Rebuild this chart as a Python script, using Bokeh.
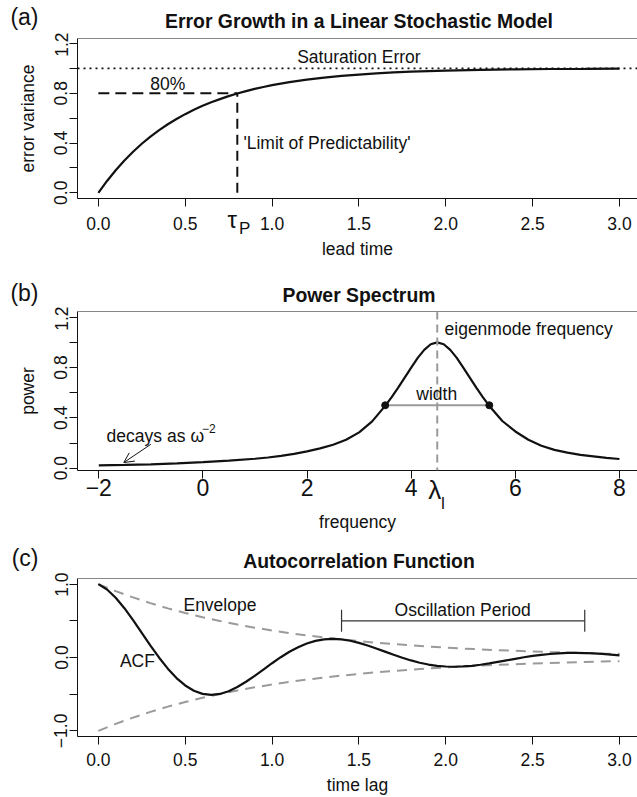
from bokeh.plotting import figure
from bokeh.layouts import column
from bokeh.models import Range1d, FixedTicker, Label, Span, Arrow, OpenHead, LinearAxis
from bokeh.embed import file_html
from bokeh.resources import INLINE

FONT = "Liberation Sans"
INK = "#111111"
GREY = "#9a9a9a"

# ---------------- data: panel (a) ----------------
lead_time = [0.0, 0.05, 0.1, 0.15, 0.2, 0.25, 0.3, 0.35, 0.4, 0.45, 0.5, 0.55, 0.6, 0.65,
             0.7, 0.75, 0.8, 0.85, 0.9, 0.95, 1.0, 1.1, 1.2, 1.3, 1.4, 1.5, 1.6, 1.7, 1.8,
             1.9, 2.0, 2.2, 2.4, 2.6, 2.8, 3.0]
error_variance = [0.0, 0.095, 0.181, 0.259, 0.330, 0.394, 0.451, 0.503, 0.551, 0.593, 0.632,
                  0.667, 0.699, 0.728, 0.753, 0.777, 0.798, 0.817, 0.835, 0.850, 0.865, 0.889,
                  0.909, 0.926, 0.939, 0.950, 0.959, 0.967, 0.973, 0.978, 0.982, 0.988, 0.992,
                  0.995, 0.996, 0.998]
saturation_level = 1.0
tau_p = 0.8
predictability_level = 0.8
a_x_ticks = [0.0, 0.5, 1.0, 1.5, 2.0, 2.5, 3.0]
a_x_labels = ["0.0", "0.5", "1.0", "1.5", "2.0", "2.5", "3.0"]
a_y_ticks = [0.0, 0.2, 0.4, 0.6, 0.8, 1.0, 1.2]
a_y_labels = ["0.0", "", "0.4", "", "0.8", "", "1.2"]
tau_symbol_at = [0.771]
tau_symbol = ["\u03c4"]
tau_sub_at = [0.842]
tau_sub = ["P"]

# ---------------- data: panel (b) ----------------
frequency = [-2.0, -1.5, -1.0, -0.5, 0.0, 0.5, 1.0, 1.25, 1.5, 1.75, 2.0, 2.25, 2.5, 2.75,
             3.0, 3.25, 3.5, 3.625, 3.75, 3.875, 4.0, 4.125, 4.25, 4.375, 4.5, 4.625, 4.75,
             4.875, 5.0, 5.125, 5.25, 5.375, 5.5, 5.75, 6.0, 6.25, 6.5, 6.75, 7.0, 7.25,
             7.5, 7.75, 8.0]
power = [0.022, 0.026, 0.031, 0.038, 0.048, 0.060, 0.075, 0.085, 0.098, 0.114, 0.134, 0.158,
         0.186, 0.226, 0.285, 0.372, 0.495, 0.565, 0.640, 0.720, 0.800, 0.877, 0.940, 0.985,
         1.000, 0.985, 0.940, 0.877, 0.800, 0.720, 0.640, 0.565, 0.495, 0.375, 0.292, 0.226,
         0.178, 0.146, 0.124, 0.106, 0.094, 0.082, 0.073]
eigen_frequency = 4.5
half_width_freq = [3.5, 5.5]
half_width_power = [0.5, 0.5]
decay_arrow_tail = [-1.0, 0.19]
decay_arrow_head = [-1.52, 0.045]
b_x_ticks = [-2, 0, 2, 4, 6, 8]
b_x_labels = ["\u22122", "0", "2", "4", "6", "8"]
b_y_ticks = [0.0, 0.2, 0.4, 0.6, 0.8, 1.0, 1.2]
b_y_labels = ["0.0", "", "0.4", "", "0.8", "", "1.2"]
lambda_symbol_at = [4.452]
lambda_symbol = ["\u03bb"]
lambda_sub_at = [4.611]
lambda_sub = ["I"]

# ---------------- data: panel (c) ----------------
time_lag = [0.0, 0.05, 0.1, 0.15, 0.2, 0.25, 0.3, 0.35, 0.4, 0.45, 0.5, 0.55, 0.6, 0.65, 0.7,
            0.75, 0.8, 0.85, 0.9, 0.95, 1.0, 1.05, 1.1, 1.15, 1.2, 1.25, 1.3, 1.35, 1.4, 1.45,
            1.5, 1.55, 1.6, 1.65, 1.7, 1.75, 1.8, 1.85, 1.9, 1.95, 2.0, 2.05, 2.1, 2.15, 2.2,
            2.25, 2.3, 2.35, 2.4, 2.45, 2.5, 2.55, 2.6, 2.65, 2.7, 2.75, 2.8, 2.85, 2.9, 2.95, 3.0]
acf = [1.000, 0.927, 0.815, 0.672, 0.509, 0.336, 0.162, -0.003, -0.152, -0.280, -0.381,
       -0.453, -0.496, -0.510, -0.497, -0.460, -0.403, -0.331, -0.250, -0.164, -0.078, 0.004,
       0.078, 0.141, 0.191, 0.227, 0.247, 0.254, 0.247, 0.228, 0.199, 0.163, 0.123, 0.080,
       0.037, -0.004, -0.040, -0.071, -0.096, -0.113, -0.123, -0.126, -0.122, -0.113, -0.099,
       -0.081, -0.060, -0.039, -0.018, 0.003, 0.021, 0.036, 0.048, 0.057, 0.062, 0.063,
       0.061, 0.056, 0.049, 0.040, 0.030]
envelope_lag = [0.0, 0.1, 0.2, 0.3, 0.4, 0.5, 0.6, 0.7, 0.8, 0.9, 1.0, 1.1, 1.2, 1.3, 1.4,
                1.5, 1.6, 1.7, 1.8, 1.9, 2.0, 2.1, 2.2, 2.3, 2.4, 2.5, 2.6, 2.7, 2.8, 2.9, 3.0]
envelope_upper = [1.0, 0.905, 0.819, 0.741, 0.670, 0.607, 0.549, 0.497, 0.449, 0.407, 0.368,
                  0.333, 0.301, 0.273, 0.247, 0.223, 0.202, 0.183, 0.165, 0.150, 0.135, 0.122,
                  0.111, 0.100, 0.091, 0.082, 0.074, 0.067, 0.061, 0.055, 0.050]
envelope_lower = [-1.0, -0.905, -0.819, -0.741, -0.670, -0.607, -0.549, -0.497, -0.449,
                  -0.407, -0.368, -0.333, -0.301, -0.273, -0.247, -0.223, -0.202, -0.183,
                  -0.165, -0.150, -0.135, -0.122, -0.111, -0.100, -0.091, -0.082, -0.074,
                  -0.067, -0.061, -0.055, -0.050]
period_start = 1.4
period_end = 2.8
period_level = 0.5
period_cap = 0.15
c_x_ticks = [0.0, 0.5, 1.0, 1.5, 2.0, 2.5, 3.0]
c_x_labels = ["0.0", "0.5", "1.0", "1.5", "2.0", "2.5", "3.0"]
c_y_ticks = [-1.0, -0.5, 0.0, 0.5, 1.0]
c_y_labels = ["\u22121.0", "", "0.0", "", "1.0"]

W = 637
LEFT = 77
BASE = "17.5px"
LIFT = 0.27  # label baseline correction, in em


def header(height, letter, title, letter_mid, title_base):
    # frame spans the plot-region columns (aligned with the panels below);
    # the panel letter is drawn as a tick label in the left border.
    h = figure(width=W, height=height, x_range=Range1d(LEFT, W),
               y_range=Range1d(height, 0), x_axis_type=None,
               output_backend="svg", toolbar_location=None,
               min_border_left=LEFT, min_border_right=0, min_border_top=0,
               min_border_bottom=0)
    h.outline_line_color = None
    h.grid.visible = False
    ax = h.yaxis[0]
    ax.ticker = FixedTicker(ticks=[letter_mid])
    ax.major_label_overrides = {letter_mid: letter}
    ax.major_label_orientation = "horizontal"
    ax.axis_line_color = None
    ax.major_tick_line_color = None
    ax.minor_tick_line_color = None
    ax.major_tick_in = 0
    ax.major_tick_out = 0
    ax.major_label_standoff = 39
    ax.major_label_text_font = FONT
    ax.major_label_text_font_size = "23px"
    ax.major_label_text_color = INK
    h.add_layout(Label(x=358.5, y=title_base - LIFT * 19.4, text=title, text_font=FONT,
                       text_font_size="19.4px", text_font_style="bold", text_align="center",
                       text_baseline="alphabetic", text_color=INK))
    return h


def style_axis(ax, size=BASE):
    ax.axis_line_color = INK
    ax.axis_line_width = 1
    ax.major_tick_line_color = INK
    ax.major_tick_in = 0
    ax.major_tick_out = 8
    ax.minor_tick_line_color = None
    ax.major_label_text_font = FONT
    ax.major_label_text_font_size = size
    ax.major_label_text_color = INK
    ax.axis_label_text_font = FONT
    ax.axis_label_text_font_size = BASE
    ax.axis_label_text_font_style = "normal"
    ax.axis_label_text_color = INK


def make_panel(height, top, bottom, xr, yr, xt, xl, yt, yl, ytitle, xsize=BASE):
    p = figure(width=W, height=height, x_range=Range1d(*xr), y_range=Range1d(*yr),
               output_backend="svg", toolbar_location=None,
               min_border_left=LEFT, min_border_right=0,
               min_border_top=top, min_border_bottom=bottom)
    p.outline_line_color = None
    p.grid.visible = False
    style_axis(p.xaxis[0], xsize)
    style_axis(p.yaxis[0])
    p.xaxis.ticker = FixedTicker(ticks=xt)
    p.xaxis.major_label_overrides = dict(zip(xt, xl))
    p.yaxis.ticker = FixedTicker(ticks=yt)
    p.yaxis.major_label_overrides = dict(zip(yt, yl))
    p.yaxis.major_label_orientation = "vertical"
    p.yaxis.major_label_standoff = 2
    if ytitle:
        p.yaxis.axis_label = ytitle
        p.yaxis.axis_label_standoff = 14
    p.add_layout(Span(location=yr[1], dimension="width", line_color=INK, line_width=1))
    return p


def extra_axis(p, ticks, labels, size, standoff, title=None, title_standoff=0):
    ax = LinearAxis(ticker=FixedTicker(ticks=ticks),
                    major_label_overrides=dict(zip(ticks, labels)))
    style_axis(ax, size)
    ax.axis_line_color = None
    ax.major_tick_line_color = None
    ax.major_tick_out = 0
    ax.major_label_standoff = standoff
    if title:
        ax.axis_label = title
        ax.axis_label_standoff = title_standoff
    p.add_layout(ax, "below")
    return ax


def txt(p, text, x, y, px_per_unit, size=17.5, align="left"):
    p.add_layout(Label(x=x, y=y + LIFT * size / px_per_unit, text=text, text_font=FONT,
                       text_font_size=f"{size}px", text_align=align,
                       text_baseline="alphabetic", text_color=INK))


# ---------------- panel (a) ----------------
ha = header(32, "(a)", "Error Growth in a Linear Stochastic Model", 22, 25.8)
pa = make_panel(236, 6, 70, (-0.12, 3.1037), (-0.046, 1.24), a_x_ticks, a_x_labels,
                a_y_ticks, a_y_labels, "error variance")
pa.xaxis[0].major_label_standoff = 10
extra_axis(pa, tau_symbol_at, tau_symbol, "24px", -27)
extra_axis(pa, tau_sub_at, tau_sub, "17px", -17, "lead time", -2)
pa.add_layout(Span(location=saturation_level, dimension="width", line_color=INK,
                   line_width=1.6, line_dash="2 4"))
pa.line([0.0, tau_p], [predictability_level, predictability_level], line_color=INK,
        line_width=2, line_dash="11 6")
pa.line([tau_p, tau_p], [0.0, predictability_level], line_color=INK, line_width=2,
        line_dash="10 6")
pa.line(lead_time, error_variance, line_color=INK, line_width=2.2)
KA = 124.4
txt(pa, "Saturation Error", 1.5, 1.051, KA, align="center")
txt(pa, "80%", 0.4, 0.836, KA, align="center")
txt(pa, "'Limit of Predictability'", 0.835, 0.36, KA)

# ---------------- panel (b) ----------------
hb = header(38, "(b)", "Power Spectrum", 24, 31.6)
pb = make_panel(229, 5, 65, (-2.409, 8.346), (-0.0183, 1.2453), b_x_ticks, b_x_labels,
                b_y_ticks, b_y_labels, "power", xsize="23px")
pb.xaxis[0].major_label_standoff = 0
extra_axis(pb, lambda_symbol_at, lambda_symbol, "26px", -24)
extra_axis(pb, lambda_sub_at, lambda_sub, "16px", -13, "frequency", -3)
pb.add_layout(Span(location=eigen_frequency, dimension="height", line_color=GREY,
                   line_width=2, line_dash="8 5"))
pb.line(half_width_freq, half_width_power, line_color=GREY, line_width=2)
pb.line(frequency, power, line_color=INK, line_width=2.2)
pb.scatter(half_width_freq, half_width_power, size=7, color=INK)
pb.add_layout(Arrow(end=OpenHead(size=10, line_width=1, line_color=INK),
                    x_start=decay_arrow_tail[0], y_start=decay_arrow_tail[1],
                    x_end=decay_arrow_head[0], y_end=decay_arrow_head[1],
                    line_width=1, line_color=INK))
KB = 125.8
txt(pb, "eigenmode frequency", 4.64, 1.07, KB)
txt(pb, "width", 4.49, 0.55, KB, align="center")
txt(pb, "decays as", -1.85, 0.22, KB)
txt(pb, "\u03c9", -0.24, 0.22, KB)
txt(pb, "\u22122", -0.02, 0.286, KB, size=12)

# ---------------- panel (c) ----------------
hc = header(37, "(c)", "Autocorrelation Function", 26, 30.8)
pc = make_panel(225, 6, 59, (-0.12, 3.1037), (-1.077, 1.077), c_x_ticks, c_x_labels,
                c_y_ticks, c_y_labels, None)
pc.xaxis[0].major_label_standoff = 8
pc.xaxis[0].axis_label = "time lag"
pc.xaxis[0].axis_label_standoff = 6
pc.line(envelope_lag, envelope_upper, line_color=GREY, line_width=2, line_dash="10 7")
pc.line(envelope_lag, envelope_lower, line_color=GREY, line_width=2, line_dash="10 7")
pc.line(time_lag, acf, line_color=INK, line_width=2.2)
pc.segment(x0=[period_start], y0=[period_level], x1=[period_end], y1=[period_level],
           line_color="#333333", line_width=1.2)
pc.segment(x0=[period_start, period_end], y0=[period_level - period_cap] * 2,
           x1=[period_start, period_end], y1=[period_level + period_cap] * 2,
           line_color="#333333", line_width=1.2)
KC = 74.3
txt(pc, "Envelope", 0.70, 0.658, KC, align="center")
txt(pc, "ACF", 0.225, -0.117, KC, align="center")
txt(pc, "Oscillation Period", 2.097, 0.59, KC, align="center")

layout = column(ha, pa, hb, pb, hc, pc)
open("out.html", "w").write(file_html(layout, INLINE))
